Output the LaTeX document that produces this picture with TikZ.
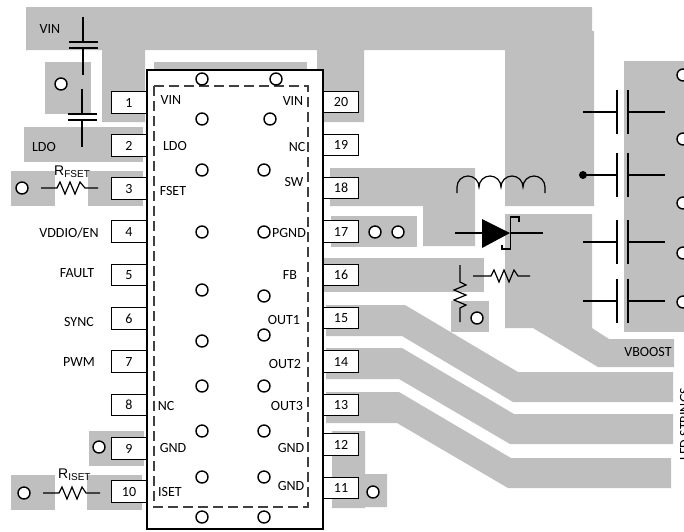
\documentclass[tikz,border=0pt]{standalone}
\usepackage{fontspec}
\setmainfont{Carlito}
\newfontfamily\arialfont{Liberation Sans}
\definecolor{padgray}{rgb}{.749,.749,.749}
\definecolor{dashgray}{rgb}{.25,.25,.25}
\begin{document}
\begin{tikzpicture}[x=1pt, y=-1pt, font=\fontsize{14}{16}\selectfont, inner sep=0pt,
	pad/.style={fill=padgray},
	pinbox/.style={rectangle,draw=black,fill=white,line width=1pt,minimum width=35pt,minimum height=21.5pt},
	via/.style={circle,draw=black,fill=white,line width=1.4pt,minimum size=12pt},
	part/.style={draw=black,line width=1.2pt},
	plate/.style={draw=black,line width=1.6pt},
	rlabel/.style={font=\arialfont\fontsize{14}{16}\selectfont}]
	\useasboundingbox (0,0) rectangle (684,531);
	% copper areas
	\fill[pad] (26,7) -- (592,7) -- (592,31) -- (594,31) -- (594,206) -- (505,206) -- (505,50) -- (364,50) -- (364,122) -- (323,122) -- (323,70) -- (317,70) -- (317,50) -- (145,50) -- (145,122) -- (102,122) -- (102,50) -- (26,50) -- cycle;
	\fill[pad] (154,62) rectangle (307,72);
	\fill[pad] (45,62) rectangle (91,114);
	\fill[pad] (24,127) rectangle (143,162);
	\fill[pad] (11,171) rectangle (55,206);
	\fill[pad] (88,171) rectangle (143,206);
	\fill[pad] (89,431) rectangle (144,466);
	\fill[pad] (11,475) rectangle (55,510);
	\fill[pad] (87,475) rectangle (142,510);
	\fill[pad] (330,168) -- (475,168) -- (475,246) -- (423,246) -- (423,206) -- (330,206) -- cycle;
	\fill[pad] (331,216) rectangle (417,247);
	\fill[pad] (324,258) rectangle (484,292);
	\fill[pad] (451,301) rectangle (489,332);
	\fill[pad] (326,305) -- (405,305) -- (518,372) -- (673,372) -- (673,402) -- (513,402) -- (402,336) -- (326,336) -- cycle;
	\fill[pad] (326,348) -- (402,348) -- (514,414) -- (673,414) -- (673,444) -- (510,444) -- (399,379) -- (326,379) -- cycle;
	\fill[pad] (326,392) -- (399,392) -- (511,458) -- (671,458) -- (671,488) -- (508,488) -- (397,423) -- (326,423) -- cycle;
	\fill[pad] (332,431) -- (365,431) -- (365,474) -- (387,474) -- (387,507) -- (365,507) -- (365,508) -- (332,508) -- cycle;
	\fill[pad] (505,214) -- (592,214) -- (592,328) -- (609,339) -- (674,339) -- (674,367) -- (598,367) -- (533,328) -- (505,328) -- cycle;
	\fill[pad] (624,61) rectangle (684,332);
	% package
	\node[pinbox](p1) at (129,102.5){1};
	\node[pinbox](p2) at (129,145.5){2};
	\node[pinbox](p3) at (129,188.5){3};
	\node[pinbox](p4) at (129,231.5){4};
	\node[pinbox](p5) at (129,275){5};
	\node[pinbox](p6) at (129,318.5){6};
	\node[pinbox](p7) at (129,361.5){7};
	\node[pinbox](p8) at (129,405){8};
	\node[pinbox](p9) at (129,448.5){9};
	\node[pinbox](p10) at (129,491.5){10};
	\node[pinbox](p20) at (341,102){20};
	\node[pinbox](p19) at (341,145){19};
	\node[pinbox](p18) at (341,188){18};
	\node[pinbox](p17) at (341,231.5){17};
	\node[pinbox](p16) at (341,275){16};
	\node[pinbox](p15) at (341,318){15};
	\node[pinbox](p14) at (341,361.5){14};
	\node[pinbox](p13) at (341,405){13};
	\node[pinbox](p12) at (341,444.5){12};
	\node[pinbox](p11) at (341,488){11};
	\node[rectangle,draw=black,fill=white,line width=2pt,minimum width=176pt,minimum height=459pt](chip) at (235,299.5){};
	\draw[draw=dashgray,line width=1.2pt,dash pattern=on 10pt off 5pt] (154,86) rectangle (308,507);
	% vias
	\node[via](v1) at (202,79){};
	\node[via](v2) at (276,79){};
	\node[via](v3) at (202,119){};
	\node[via](v4) at (270,119){};
	\node[via](v5) at (202,170){};
	\node[via](v6) at (264,170){};
	\node[via](v7) at (202,232){};
	\node[via](v8) at (264,232){};
	\node[via](v9) at (202,290){};
	\node[via](v10) at (264,296){};
	\node[via](v11) at (202,341){};
	\node[via](v12) at (264,335){};
	\node[via](v13) at (202,386){};
	\node[via](v14) at (264,386){};
	\node[via](v15) at (202,431){};
	\node[via](v16) at (264,431){};
	\node[via](v17) at (202,477){};
	\node[via](v18) at (264,477){};
	\node[via](v19) at (202,517){};
	\node[via](v20) at (264,517){};
	\node[via](v21) at (61,84){};
	\node[via](v22) at (22,188){};
	\node[via](v23) at (99,447){};
	\node[via](v24) at (24,493){};
	\node[via](v25) at (373,492){};
	\node[via](v26) at (375,232){};
	\node[via](v27) at (398,232){};
	\node[via](v28) at (477,318){};
	\node[via](v29) at (683,75){};
	\node[via](v30) at (683,139){};
	\node[via](v31) at (683,203){};
	\node[via](v32) at (683,253){};
	\node[via](v33) at (683,302){};
	% labels
	\node(vintop) at (50,29){VIN};
	\node(ldopad) at (44,147){LDO};
	\node(vddio) at (69,233){VDDIO/EN};
	\node(fault) at (77,273){FAULT};
	\node(sync) at (79,322){SYNC};
	\node(pwm) at (79,362){PWM};
	\node(lvin) at (171,100){VIN};
	\node(lldo) at (175,146){LDO};
	\node(lfset) at (173,191){FSET};
	\node(lnc) at (166,406){NC};
	\node(lgnd) at (173,448){GND};
	\node(liset) at (170,492){ISET};
	\node(rvin) at (293,101){VIN};
	\node(rnc) at (297,147){NC};
	\node(rsw) at (294,182){SW};
	\node(rpgnd) at (289,233){PGND};
	\node(rfb) at (290,275){FB};
	\node(rout1) at (284,320){OUT1};
	\node(rout2) at (285,364){OUT2};
	\node(rout3) at (287,406){OUT3};
	\node(rgnda) at (291,448){GND};
	\node(rgndb) at (291,486){GND};
	\node(vboost) at (648,352){VBOOST};
	\node[rlabel,anchor=base west](rfsetlab) at (54,175){R{\fontsize{10}{12}\selectfont\raisebox{-2pt}{FSET}}};
	\node[rlabel,anchor=base west](risetlab) at (58,478){R{\fontsize{10}{12}\selectfont\raisebox{-2pt}{ISET}}};
	\node[rotate=90,anchor=base west](ledlab) at (689,461){LED STRINGS};
	% capacitors
	\draw[part] (83,17) -- (83,42) (83,48) -- (83,75);
	\draw[plate] (69,42) -- (98,42) (69,48) -- (98,48);
	\draw[part] (82,89) -- (82,114) (82,120) -- (82,147);
	\draw[plate] (68,114) -- (97,114) (68,120) -- (97,120);
	\draw[part] (583,112) -- (617,112) (628,112) -- (665,112);
	\draw[plate] (617,90) -- (617,134) (628,90) -- (628,134);
	\draw[part] (583,175) -- (617,175) (628,175) -- (665,175);
	\draw[plate] (617,153) -- (617,197) (628,153) -- (628,197);
	\fill (583,175) circle (4);
	\draw[part] (583,242) -- (617,242) (628,242) -- (665,242);
	\draw[plate] (617,220) -- (617,264) (628,220) -- (628,264);
	\draw[part] (583,301) -- (617,301) (628,301) -- (665,301);
	\draw[plate] (617,279) -- (617,323) (628,279) -- (628,323);
	% resistors
	\draw[part] (41,188) -- (57,188) -- (60,182) -- (65,194) -- (70,182) -- (75,194) -- (80,182) -- (85,188) -- (98,188);
	\draw[part] (43,493) -- (59,493) -- (62,487) -- (67,499) -- (72,487) -- (77,499) -- (82,487) -- (86,493) -- (100,493);
	\draw[part] (473,276) -- (491,276) -- (494,270) -- (499,282) -- (504,270) -- (509,282) -- (514,270) -- (518,276) -- (530,276);
	\draw[part] (460,265) -- (460,282) -- (466,285) -- (454,290) -- (466,295) -- (454,300) -- (466,305) -- (460,308) -- (460,322);
	% inductor
	\draw[part] (457,193) -- (457,187) arc (180:0:11pt) arc (180:0:11pt) arc (180:0:11pt) arc (180:0:11pt) -- (545,193);
	% diode
	\draw[part] (455,233) -- (483,233) (510,233) -- (543,233);
	\fill (482,219) -- (510,233) -- (482,248) -- cycle;
	\draw[part] (519,222) -- (519,217) -- (510.5,217) -- (510.5,249) -- (502,249) -- (502,245);
\end{tikzpicture}
\end{document}
